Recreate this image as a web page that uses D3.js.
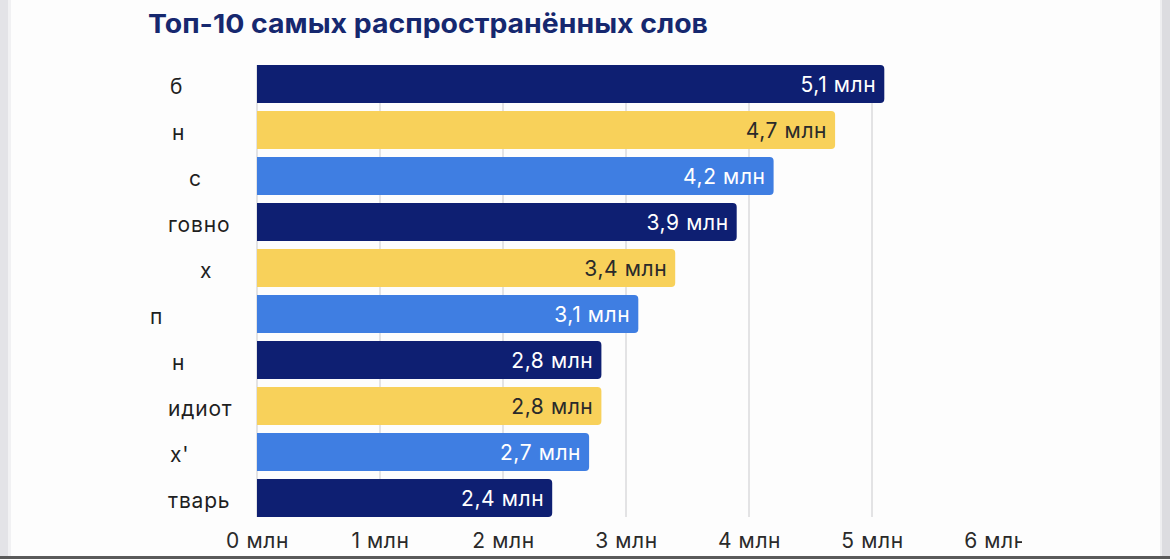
<!DOCTYPE html>
<html lang="ru">
<head>
  <meta charset="utf-8">
  <script src="https://cdn.jsdelivr.net/npm/d3@7"></script>
  <style>
    html, body { margin: 0; padding: 0; background: #fdfdfd; }
    #chart { width: 1170px; height: 559px; }
    text { font-family: Inter, "Noto Sans", sans-serif; }
  </style>
</head>
<body>
  <div id="chart"></div>
  <script>
    // data
    const words = ["б", "н", "с", "говно", "х", "п", "н ", "идиот", "х'", "тварь"];
    const counts = [5.1, 4.7, 4.2, 3.9, 3.4, 3.1, 2.8, 2.8, 2.7, 2.4];
    const valueLabels = ["5,1 млн", "4,7 млн", "4,2 млн", "3,9 млн", "3,4 млн", "3,1 млн", "2,8 млн", "2,8 млн", "2,7 млн", "2,4 млн"];
    const ticks = [0, 1, 2, 3, 4, 5, 6];
    const gridTicks = [0, 1, 2, 3, 4, 5];
    const title = "Топ-10 самых распространённых слов";

    // look
    const colors = ["#0e1f72", "#f8d15a", "#3f7ee2"];
    const labelColors = ["#ffffff", "#2a2a2a", "#ffffff"];
    const labelNudge = [2, 4, 21, 0, 32, -18, 4, 0, 2, 0]; // the blurred words, start offsets

    const W = 1170, H = 559;
    const svg = d3.select("#chart").append("svg")
      .attr("width", W).attr("height", H);

    // page frame (screenshot edges)
    svg.append("rect").attr("x", 0).attr("y", 0).attr("width", 8).attr("height", H).attr("fill", "#e3e3e7");
    svg.append("rect").attr("x", 8).attr("y", 0).attr("width", 3).attr("height", H).attr("fill", "#f1f1f3");
    svg.append("rect").attr("x", 1160).attr("y", 0).attr("width", 2).attr("height", H).attr("fill", "#eeeef0");
    svg.append("rect").attr("x", 1162).attr("y", 0).attr("width", 8).attr("height", H).attr("fill", "#dcdce0");
    svg.append("rect").attr("x", 0).attr("y", 556).attr("width", W).attr("height", 3).attr("fill", "#5a5a5a");

    // title
    svg.append("text")
      .attr("x", 148).attr("y", 33)
      .attr("font-size", 26).attr("font-weight", 700)
      .attr("fill", "#16286f")
      .attr("textLength", 560).attr("lengthAdjust", "spacingAndGlyphs")
      .text(title);

    const x = d3.scaleLinear().domain([0, 6]).range([257, 995]);
    const y = d3.scaleBand().domain(d3.range(words.length))
      .range([61, 521]).paddingInner(8 / 46).paddingOuter(4 / 46);

    // grid
    svg.append("g").selectAll("line").data(gridTicks).join("line")
      .attr("x1", d => x(d)).attr("x2", d => x(d))
      .attr("y1", 65).attr("y2", 517)
      .attr("stroke", "#c9c9cc").attr("stroke-width", 1);

    // bars, right side rounded
    const r = 4;
    const barPath = (x0, y0, w, h) =>
      `M${x0},${y0}H${x0 + w - r}Q${x0 + w},${y0} ${x0 + w},${y0 + r}` +
      `V${y0 + h - r}Q${x0 + w},${y0 + h} ${x0 + w - r},${y0 + h}H${x0}Z`;

    svg.append("g").selectAll("path").data(counts).join("path")
      .attr("d", (d, i) => barPath(x(0), y(i), x(d) - x(0), y.bandwidth()))
      .attr("fill", (d, i) => colors[i % 3]);

    // value labels
    svg.append("g").selectAll("text").data(counts).join("text")
      .attr("x", d => x(d) - 8)
      .attr("y", (d, i) => y(i) + y.bandwidth() / 2)
      .attr("dy", "0.36em")
      .attr("text-anchor", "end")
      .attr("font-size", 21)
      .attr("letter-spacing", 0.6)
      .attr("fill", (d, i) => labelColors[i % 3])
      .text((d, i) => valueLabels[i]);

    // category labels
    svg.append("g").selectAll("text").data(words).join("text")
      .attr("x", (d, i) => 168 + labelNudge[i])
      .attr("y", (d, i) => y(i) + y.bandwidth() / 2 + 2)
      .attr("dy", "0.36em")
      .attr("font-size", 21)
      .attr("letter-spacing", 0.8)
      .attr("fill", "#1f1f1f")
      .text(d => d.trim());

    // x axis labels, cut off at the right like the source
    svg.append("defs").append("clipPath").attr("id", "axclip")
      .append("rect").attr("x", 0).attr("y", 520).attr("width", 1022).attr("height", 36);

    svg.append("g")
      .attr("clip-path", "url(#axclip)")
      .append("g")
      .attr("transform", "translate(0,540)")
      .call(d3.axisBottom(x).tickValues(ticks).tickSize(0).tickFormat(d => d + " млн"))
      .call(g => g.select(".domain").remove())
      .call(g => g.selectAll("text")
        .attr("y", 0).attr("dy", "0.36em")
        .attr("font-size", 21)
        .attr("letter-spacing", 0.6)
        .attr("font-family", "Inter, 'Noto Sans', sans-serif")
        .attr("fill", "#2a2a2a"));
  </script>
</body>
</html>
